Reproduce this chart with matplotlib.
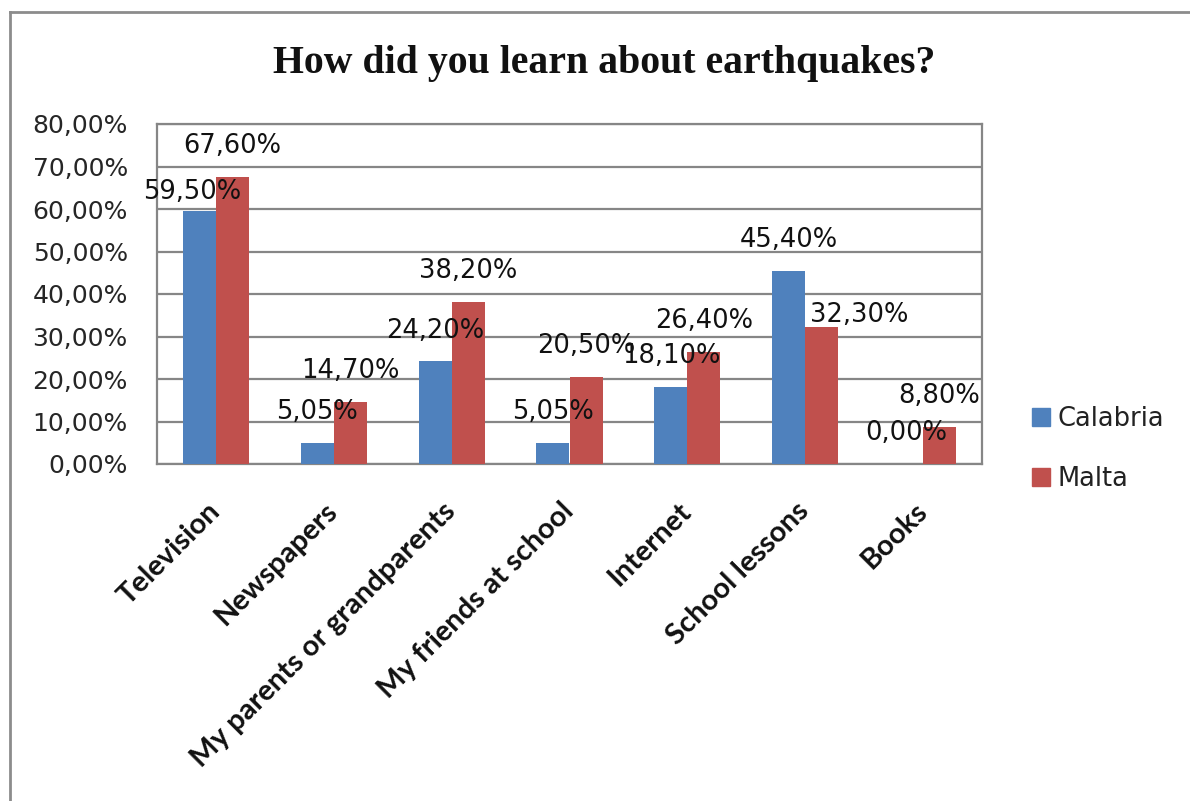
import matplotlib
matplotlib.use("Agg")
import matplotlib.pyplot as plt
from matplotlib.lines import Line2D
import numpy as np

title = "How did you learn about earthquakes?"
categories = ["Television", "Newspapers", "My parents or grandparents",
              "My friends at school", "Internet", "School lessons", "Books"]
series_names = ["Calabria", "Malta"]
calabria = [59.50, 5.05, 24.20, 5.05, 18.10, 45.40, 0.00]
malta = [67.60, 14.70, 38.20, 20.50, 26.40, 32.30, 8.80]
y_ticks = [0, 10, 20, 30, 40, 50, 60, 70, 80]

colors = ["#4F81BD", "#C0504D"]
grid_c = "#868686"

def pct(v):
    return f"{v:.2f}%".replace(".", ",")

fig = plt.figure(figsize=(11.9, 8.01), dpi=100)
ax = fig.add_axes([157/1190, 1 - 464/801, (982 - 157)/1190, (464 - 124)/801])

x = np.arange(len(categories))
w = 0.28
b1 = ax.bar(x - w/2, calabria, w, color=colors[0], label=series_names[0], zorder=3)
b2 = ax.bar(x + w/2, malta, w, color=colors[1], label=series_names[1], zorder=3)

ax.set_xlim(-0.5, len(categories) - 0.5)
ax.set_ylim(0, 80)
ax.set_yticks(y_ticks)
ax.set_yticklabels([pct(v) for v in y_ticks], fontsize=18, color="#262626",
                   family="DejaVu Sans")
ax.tick_params(axis="y", length=0, pad=21)
ax.tick_params(axis="x", length=0, pad=31)
ax.set_xticks(x)
ax.set_xticklabels(categories, rotation=45, ha="right", va="center",
                   rotation_mode="anchor",
                   fontsize=21, fontweight="bold", family="Lato", color="#111111")
ax.yaxis.grid(True, color=grid_c, lw=1.6, zorder=1)
for s in ax.spines.values():
    s.set_color(grid_c)
    s.set_linewidth(1.6)

# data labels: offsets in points (dx, dy) for the label baseline above bar top
label_offsets = {(0, 0): (-5, 9), (1, 5): (27, 3.5)}
for si, (bars, vals) in enumerate([(b1, calabria), (b2, malta)]):
    for ci, (bar, v) in enumerate(zip(bars, vals)):
        dx, dy = label_offsets.get((si, ci), (0, 17))
        ax.annotate(pct(v), (bar.get_x() + bar.get_width()/2, bar.get_height()),
                    xytext=(dx, dy), textcoords="offset points",
                    ha="center", va="baseline", fontsize=18.5,
                    color="#111111", family="DejaVu Sans", zorder=5,
                    annotation_clip=False)

fig.text(604/1190, 1 - 64/801, title, ha="center", va="center",
         fontsize=28.6, fontweight="bold", family="Liberation Serif", color="#111111")

handles = [Line2D([], [], marker="s", linestyle="none", markersize=12.5,
                  markerfacecolor=c, markeredgecolor=c) for c in colors]
fig.legend(handles, series_names, loc="center left",
           bbox_to_anchor=(1031/1190, 1 - 449/801), frameon=False,
           prop={"family": "DejaVu Sans", "size": 18.5}, labelspacing=1.3,
           handlelength=0.75, handletextpad=0.3, borderpad=0, borderaxespad=0,
           labelcolor="#222222")

# outer chart frame (top and left visible)
fig.add_artist(Line2D([10/1190, 10/1190], [0, 1 - 12/801], transform=fig.transFigure,
                      color="#8c8c8c", lw=2))
fig.add_artist(Line2D([10/1190, 1], [1 - 12/801, 1 - 12/801], transform=fig.transFigure,
                      color="#8c8c8c", lw=2))

fig.savefig("out.png", dpi=100, facecolor="white")
